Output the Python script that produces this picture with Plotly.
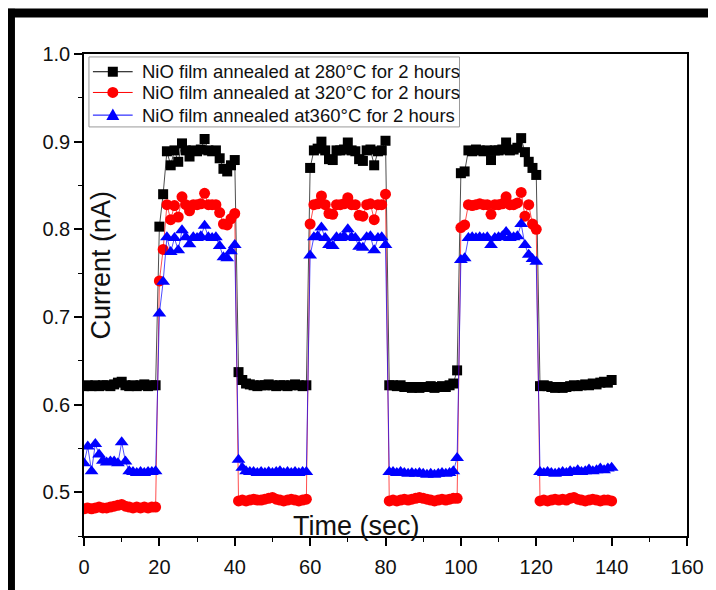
import plotly.graph_objects as go

# -------------------------------
# Data (1 s sampling, 0-140 s)
# -------------------------------
time_s = list(range(0, 141))

current_280 = [
    # off 0-19
    0.621, 0.622, 0.621, 0.622, 0.621, 0.622, 0.622, 0.621, 0.623, 0.625,
    0.626, 0.622, 0.621, 0.622, 0.621, 0.622, 0.623, 0.621, 0.622, 0.622,
    # on 20-40
    0.803, 0.840, 0.889, 0.873, 0.890, 0.877, 0.898, 0.890, 0.883, 0.890,
    0.889, 0.891, 0.903, 0.890, 0.889, 0.890, 0.881, 0.869, 0.866, 0.873, 0.879,
    # off 41-59
    0.637, 0.628, 0.624, 0.623, 0.622, 0.621, 0.622, 0.622, 0.623, 0.622,
    0.621, 0.622, 0.622, 0.621, 0.622, 0.623, 0.622, 0.621, 0.622,
    # on 60-80
    0.870, 0.890, 0.892, 0.900, 0.890, 0.880, 0.879, 0.890, 0.890, 0.891,
    0.899, 0.890, 0.889, 0.880, 0.878, 0.890, 0.891, 0.873, 0.889, 0.890, 0.901,
    # off 81-99
    0.622, 0.622, 0.621, 0.622, 0.620, 0.620, 0.619, 0.620, 0.619, 0.620,
    0.620, 0.621, 0.619, 0.620, 0.621, 0.620, 0.622, 0.624, 0.639,
    # on 100-120
    0.864, 0.866, 0.890, 0.889, 0.891, 0.890, 0.889, 0.890, 0.879, 0.890,
    0.890, 0.891, 0.899, 0.890, 0.891, 0.893, 0.904, 0.888, 0.877, 0.870, 0.862,
    # off 121-140
    0.621, 0.622, 0.621, 0.620, 0.619, 0.620, 0.619, 0.620, 0.621, 0.622,
    0.621, 0.622, 0.623, 0.622, 0.624, 0.623, 0.625, 0.626, 0.625, 0.628,
]

current_320 = [
    0.481, 0.482, 0.481, 0.482, 0.483, 0.482, 0.482, 0.483, 0.484, 0.485,
    0.486, 0.484, 0.483, 0.482, 0.483, 0.482, 0.483, 0.482, 0.483, 0.483,
    0.741, 0.777, 0.828, 0.811, 0.827, 0.814, 0.837, 0.828, 0.821, 0.828,
    0.828, 0.829, 0.841, 0.828, 0.828, 0.828, 0.819, 0.806, 0.805, 0.812, 0.818,
    0.490, 0.491, 0.490, 0.491, 0.492, 0.491, 0.491, 0.492, 0.493, 0.494,
    0.492, 0.491, 0.490, 0.491, 0.492, 0.491, 0.490, 0.491, 0.492,
    0.806, 0.828, 0.829, 0.838, 0.828, 0.818, 0.817, 0.828, 0.828, 0.829,
    0.836, 0.828, 0.828, 0.816, 0.815, 0.828, 0.829, 0.811, 0.828, 0.828, 0.840,
    0.490, 0.491, 0.490, 0.491, 0.492, 0.491, 0.492, 0.493, 0.494, 0.493,
    0.492, 0.491, 0.490, 0.491, 0.492, 0.491, 0.492, 0.493, 0.493,
    0.802, 0.805, 0.828, 0.827, 0.828, 0.829, 0.828, 0.828, 0.817, 0.828,
    0.828, 0.829, 0.837, 0.828, 0.828, 0.830, 0.842, 0.815, 0.828, 0.806, 0.800,
    0.490, 0.491, 0.490, 0.491, 0.492, 0.491, 0.492, 0.491, 0.493, 0.494,
    0.492, 0.491, 0.490, 0.491, 0.492, 0.491, 0.490, 0.491, 0.491, 0.490,
]

current_360 = [
    0.533, 0.552, 0.524, 0.555, 0.543, 0.536, 0.534, 0.535, 0.535, 0.533,
    0.557, 0.535, 0.524, 0.523, 0.522, 0.523, 0.522, 0.523, 0.523, 0.524,
    0.704, 0.740, 0.791, 0.774, 0.790, 0.776, 0.799, 0.791, 0.783, 0.791,
    0.790, 0.792, 0.804, 0.791, 0.790, 0.791, 0.781, 0.768, 0.767, 0.775, 0.782,
    0.537, 0.528, 0.524, 0.523, 0.523, 0.522, 0.523, 0.522, 0.523, 0.522,
    0.523, 0.524, 0.522, 0.523, 0.522, 0.523, 0.522, 0.523, 0.523,
    0.770, 0.791, 0.792, 0.802, 0.790, 0.782, 0.781, 0.791, 0.790, 0.792,
    0.800, 0.791, 0.790, 0.780, 0.779, 0.791, 0.792, 0.776, 0.790, 0.791, 0.782,
    0.523, 0.523, 0.522, 0.523, 0.522, 0.521, 0.522, 0.521, 0.522, 0.521,
    0.520, 0.521, 0.520, 0.521, 0.522, 0.521, 0.522, 0.524, 0.539,
    0.765, 0.767, 0.790, 0.791, 0.790, 0.791, 0.790, 0.791, 0.782, 0.790,
    0.791, 0.792, 0.797, 0.790, 0.791, 0.792, 0.806, 0.782, 0.771, 0.766, 0.763,
    0.523, 0.522, 0.523, 0.522, 0.521, 0.522, 0.523, 0.522, 0.524, 0.523,
    0.525, 0.523, 0.524, 0.526, 0.524, 0.525, 0.527, 0.525, 0.527, 0.528,
]

series = [
    ("NiO film annealed at 280°C for 2 hours", current_280, "#000000", "square", 10),
    ("NiO film annealed at 320°C for 2 hours", current_320, "#ff0000", "circle", 11),
    ("NiO film annealed at360°C for 2 hours", current_360, "#0000ff", "triangle-up", 12),
]

FONT = "Liberation Sans, Arial, sans-serif"

# -------------------------------
# Plotting
# -------------------------------
fig = go.Figure()

for name, values, color, symbol, msize in series:
    fig.add_trace(go.Scatter(
        x=time_s,
        y=values,
        mode="lines+markers",
        name=name,
        showlegend=False,
        line=dict(color=color, width=0.7),
        marker=dict(color=color, symbol=symbol, size=msize, line=dict(width=0)),
    ))

axis_common = dict(
    showline=True,
    linecolor="black",
    linewidth=1.5,
    mirror=True,
    ticks="outside",
    ticklen=8,
    tickwidth=1.5,
    tickcolor="black",
    showgrid=False,
    zeroline=False,
    tickfont=dict(family=FONT, size=20, color="#111"),
)

fig.update_xaxes(
    range=[0, 160], dtick=20, ticklabelstandoff=4,
    minor=dict(dtick=10, ticks="outside", ticklen=4, tickcolor="black", tickwidth=1.2),
    **axis_common,
)
fig.update_yaxes(
    range=[0.45, 1.0], tickvals=[0.5, 0.6, 0.7, 0.8, 0.9, 1.0], tickformat=".1f",
    minor=dict(dtick=0.05, tick0=0.45, ticks="outside", ticklen=4, tickcolor="black", tickwidth=1.2),
    **axis_common,
)

# axis titles sit inside the frame in the original
fig.add_annotation(text="Current (nA)", xref="paper", yref="paper", x=0.029, y=0.562,
                   xanchor="center", yanchor="middle", textangle=-90, showarrow=False,
                   font=dict(family=FONT, size=27, color="#111"))
fig.add_annotation(text="Time (sec)", xref="paper", yref="paper", x=0.452, y=0.02,
                   xanchor="center", yanchor="middle", showarrow=False,
                   font=dict(family=FONT, size=27, color="#111"))

# -------------------------------
# Legend drawn by hand (Origin style, tight rows)
# -------------------------------
fig.add_shape(type="rect", xref="paper", yref="paper", x0=0.0082, x1=0.6227, y0=0.8487, y1=0.9939,
              line=dict(color="#999", width=1), fillcolor="white", layer="above")

legend_rows = [0.9632, 0.9202, 0.8732]
glyph_x = 0.0478
for (name, _, color, symbol, _), ly in zip(series, legend_rows):
    fig.add_shape(type="line", xref="paper", yref="paper", x0=0.0148, x1=0.0807, y0=ly, y1=ly,
                  line=dict(color=color, width=1), layer="above")
    glyph = dict(xref="paper", yref="paper", xsizemode="pixel", ysizemode="pixel",
                 xanchor=glyph_x, yanchor=ly, fillcolor=color, line=dict(width=0), layer="above")
    if symbol == "square":
        fig.add_shape(type="rect", x0=-5, x1=5, y0=-5, y1=5, **glyph)
    elif symbol == "circle":
        fig.add_shape(type="circle", x0=-5.5, x1=5.5, y0=-5.5, y1=5.5, **glyph)
    else:
        fig.add_shape(type="path", path="M -6.5,-5 L 6.5,-5 L 0,6.5 Z", **glyph)
    fig.add_annotation(text=name, xref="paper", yref="paper", x=0.0923, y=ly,
                       xanchor="left", yanchor="middle", showarrow=False,
                       font=dict(family=FONT, size=18.5, color="#111"))

# thick black frame round the picture (top and left edges show)
fig.add_shape(type="line", xref="paper", yref="paper", x0=-0.2, x1=1.2, y0=1.0849, y1=1.0849,
              line=dict(color="black", width=9), layer="above")
fig.add_shape(type="line", xref="paper", yref="paper", x0=-0.1203, x1=-0.1203, y0=-0.2, y1=1.094,
              line=dict(color="black", width=7), layer="above")

fig.update_layout(
    width=708,
    height=582,
    margin=dict(l=76, r=25, t=46, b=47),
    plot_bgcolor="white",
    paper_bgcolor="white",
)

fig.write_html("out.html")
